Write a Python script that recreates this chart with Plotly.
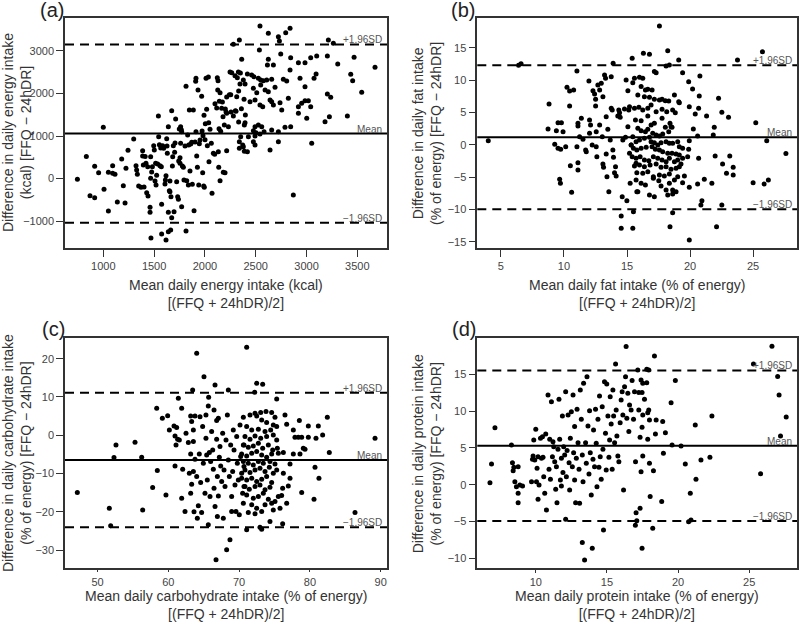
import plotly.graph_objects as go

# ---------------- data (mean of methods, difference FFQ - 24hDR) ----------------
energy_pts = [
    (745,-16),(833,518),(869,-408),(915,-455),(915,290),(954,133),
    (1000,1204),(1007,-255),(1050,-765),(1050,145),(1092,122),(1115,98),(1092,300),(1138,-553),(1181,459),
    (1197,-168),(1214,-577),(1223,239),(1243,663),(1299,929),(1322,302),(1328,200),(1335,98),(1348,-177),
    (1371,-208),(1387,655),(1387,529),(1394,318),(1401,-200),(1412,520),(1420,357),(1427,-333),(1437,278),
    (1440,-412),(1460,-678),(1460,-796),(1466,514),(1466,4),(1476,153),(1483,278),(1496,773),(1502,670),
    (1509,-59),(1515,357),(1519,-153),(1525,75),(1535,341),(1542,1471),(1545,984),(1552,796),(1558,302),
    (1565,718),(1571,278),(1574,-608),(1584,773),(1594,710),(1607,-129),(1611,-35),(1617,67),(1624,937),
    (1627,765),(1630,592),(1640,1220),(1640,-796),(1650,-286),(1656,-59),(1656,-310),(1666,-427),(1673,1596),
    (1673,-922),(1680,294),(1683,514),(1689,773),(1696,-780),(1702,616),(1706,835),(1712,1400),(1722,-74),
    (1732,-427),(1739,-490),(1742,412),(1748,1165),(1755,490),(1755,357),(1761,827),(1761,1220),(1768,1149),
    (1771,1102),(1771,-663),(1778,294),(1788,263),(1794,-35),(1804,765),(1814,2169),(1814,-1235),(1821,-51),
    (1830,1024),(1837,-153),(1840,788),(1847,1612),(1853,176),(1860,812),(1870,851),(1876,-137),(1886,1612),
    (1893,-757),(1903,859),(1909,2286),(1912,2357),(1912,1102),(1919,529),(1926,263),(1932,2082),(1939,-153),
    (1945,820),(1952,906),(1968,1933),(1972,1118),(1978,137),(1981,1008),(1988,-177),(1991,1486),(1994,-208),
    (2001,914),(2004,1290),(2011,2357),(2017,1627),(2024,773),(2034,2388),(2037,1314),(2040,396),(2050,1157),
    (2063,827),(2070,-349),(2083,592),(2096,568),(2099,1761),(2116,1659),(2122,2373),(2129,2302),(2126,2082),
    (2132,631),(2136,263),(2139,1172),(2142,1816),(2149,-51),(2149,2020),(2155,1110),(2165,1651),(2172,1800),
    (2178,1455),(2181,145),(2191,1259),(2198,137),(2201,1635),(2208,1565),(2214,1918),(2214,655),(2214,1533),
    (2231,1220),(2241,1973),(2247,2506),(2254,1973),(2257,1565),(2264,2490),(2280,1471),(2296,2420),(2300,1596),
    (2306,1580),(2313,1925),(2319,2373),(2329,2506),(2332,2059),(2332,1329),(2339,867),(2339,710),(2345,2224),
    (2349,2482),(2352,984),(2359,1643),(2362,2804),(2372,788),(2378,2318),(2385,1863),(2388,1259),(2388,639),
    (2398,1494),(1469,-1400),(1574,-1306),(1617,-1447),(1640,-1251),(1663,-1212),(2280,3157),(2339,3259),
    (2542,3588),(2624,3416),(2723,3337),(2733,3235),(2795,3431),(2838,3533),(2536,3024),(2624,2804),(2746,2929),
    (2844,2843),(2920,2725),(2985,2725),(3041,2843),(3100,2882),(3205,2882),(3215,3259),(3264,3180),(3307,2694),
    (3468,2851),(3674,2616),(3435,2451),(3454,2302),(3543,2027),(2615,2671),(2674,2671),(2418,2459),(2460,2435),
    (2483,2396),(2526,2357),(2549,2318),(2575,2302),(2608,2318),(2657,2333),(2690,2145),(2772,2333),(2805,2294),
    (2838,2553),(2936,2357),(2985,2161),(3074,2357),(3094,2459),(2395,2224),(2477,2121),(2510,2020),(2549,2200),
    (2592,2082),(2624,2043),(2444,1808),(2493,1847),(2542,1729),(2569,1690),(2641,1847),(2657,1808),(2674,1729),
    (2739,1784),(2756,1612),(2821,1886),(2920,1690),(2952,1769),(2985,1831),(3018,1831),(3041,1690),(3002,1416),
    (3205,1988),(3238,1910),(3225,1455),(3182,1337),(3402,1471),(2920,1533),(2395,1314),(2493,1220),(2526,1259),
    (2559,1220),(2477,1126),(2503,1078),(2542,1047),(2582,1102),(2657,1141),(2723,1102),(2788,1204),(2844,1220),
    (2493,1000),(2428,984),(2477,867),(2378,749),(2418,631),(2493,788),(2641,671),(2723,867),(3051,827),(2870,-388),
]

fat_pts = [
    (4.0,0.6),(6.4,12.3),(6.6,12.5),
    (8.82,6.30),(8.74,2.43),(9.40,2.17),(9.53,3.41),(9.80,3.41),(9.93,2.02),(9.27,0.06),(9.53,-0.56),(9.74,-0.71),
    (10.14,-0.30),(9.66,-5.35),(9.72,-5.97),(10.24,8.87),(10.45,8.31),(10.77,8.46),(10.45,5.99),(10.51,-3.24),
    (10.61,-7.36),(11.11,-3.91),(11.03,11.40),(11.03,-0.30),(11.11,-2.78),(11.11,3.31),(11.11,2.90),(11.24,1.24),
    (11.38,4.08),(11.51,0.83),(11.72,-0.82),(11.77,-1.07),(11.98,9.85),(12.03,3.82),(12.03,1.76),(12.11,3.05),
    (12.24,-0.04),(12.30,8.36),(12.43,7.84),(12.51,7.02),(12.51,5.99),(12.56,2.02),(12.56,-0.30),(12.61,-1.85),
    (12.69,9.23),(12.83,8.46),(12.83,3.05),(12.96,9.49),(13.09,7.43),(13.04,1.24),(13.09,-2.98),(13.14,-3.50),
    (13.22,10.78),(13.30,10.26),(13.35,4.34),(13.35,-1.43),(13.41,-4.94),(13.48,2.38),(13.56,-7.26),(13.67,0.73),
    (13.75,5.63),(13.75,10.52),(13.83,5.37),(13.88,-0.82),(13.93,-1.95),(14.01,-4.32),(14.09,-3.40),(14.14,-4.84),
    (14.27,4.44),(14.35,5.37),(14.41,4.96),(14.46,4.23),(14.54,-11.02),(14.54,-12.93),(14.62,-8.03),(14.67,0.73),
    (14.80,5.52),(14.88,1.14),(14.93,10.01),(14.99,-8.65),(15.07,8.36),(15.07,2.79),(15.14,5.37),(15.20,-1.33),
    (15.25,-5.97),(15.33,-0.04),(15.41,13.36),(15.46,-12.93),(15.51,-10.35),(15.59,10.26),(15.72,-2.88),
    (15.78,-7.26),(13.9,12.6),
    (17.57,18.36),(18.23,14.54),(16.30,14.13),(16.78,13.98),(18.36,12.33),(18.10,12.17),(19.10,13.10),
    (17.17,11.30),(17.31,11.14),(19.41,11.14),(19.89,9.75),(20.78,10.63),(20.20,8.62),(20.73,7.53),(22.26,7.17),
    (19.94,5.88),(20.68,5.63),(20.41,4.75),(21.31,4.44),(22.52,5.01),(23.05,4.23),(25.21,3.41),(26.08,0.63),
    (25.74,14.39),(23.76,13.10),(20.26,2.43),(20.60,1.35),(21.92,2.69),(21.84,1.50),(19.94,0.63),(21.99,-1.74),
    (22.58,-2.98),(23.15,-1.74),(20.68,-2.11),(19.89,-0.71),(19.81,-1.85),(22.89,-4.43),(23.42,-3.50),
    (23.42,-4.68),(21.73,-5.97),(21.13,-5.35),(20.60,-6.07),(19.41,-5.87),(19.94,-6.59),(25.0,-5.87),
    (25.87,-6.07),(26.21,-5.45),(20.94,-8.65),(20.86,-9.32),(22.52,-9.32),(18.41,-12.67),(22.10,-12.67),
    (19.94,-14.73),(18.62,-10.51),(27.6,-1.35),
    (15.46,9.59),(15.99,10.42),(16.25,10.26),(16.12,8.98),(16.46,8.46),(16.65,8.56),(16.99,8.46),(15.86,7.69),
    (16.38,7.43),(16.78,7.33),(17.17,7.02),(17.57,6.91),(17.78,7.02),(18.04,6.81),(18.31,6.76),(18.76,7.69),
    (19.10,6.66),(15.20,5.88),(15.59,5.63),(15.94,5.78),(16.25,5.37),(16.65,5.63),(16.91,6.14),(17.31,5.11),
    (17.78,5.47),(18.15,5.11),(18.62,5.37),(19.15,6.50),(15.67,3.82),(16.12,3.72),(16.65,4.44),(16.91,3.05),
    (17.17,3.31),(17.78,4.08),(18.04,2.69),(18.41,3.31),(18.57,2.69),(18.83,4.96),(15.86,2.53),(16.12,2.17),
    (16.46,2.02),(16.65,2.38),(17.04,1.76),(17.31,1.50),(17.57,1.35),(17.83,1.66),(18.31,2.02),(18.49,2.79),
    (15.46,1.24),(15.72,0.47),(15.99,0.73),(16.38,0.99),(16.78,1.14),(16.91,0.47),(17.17,0.32),(17.44,-0.04),
    (17.70,0.32),(18.10,0.47),(18.36,0.21),(18.62,0.21),(19.02,0.47),(19.15,-0.30),(19.41,-0.56),(15.33,-0.04),
    (15.51,-0.56),(15.78,-0.82),(16.12,-0.56),(16.52,-0.40),(16.99,-0.30),(17.25,-0.71),(17.57,-0.82),
    (17.83,-1.07),(18.23,-1.33),(18.57,-1.33),(18.89,-1.43),(19.15,-1.59),(19.41,-2.10),(15.41,-1.85),
    (15.72,-2.10),(16.04,-1.85),(16.38,-2.36),(16.73,-2.47),(17.09,-1.85),(17.44,-2.10),(17.78,-2.36),
    (18.10,-2.62),(18.36,-2.10),(18.76,-2.62),(19.02,-2.36),(19.28,-2.98),(15.59,-3.29),(15.99,-3.14),
    (16.38,-3.39),(16.83,-3.14),(17.31,-2.98),(17.70,-3.50),(18.10,-3.39),(18.49,-3.81),(18.89,-3.65),
    (19.15,-3.39),(15.78,-4.32),(16.25,-4.42),(16.65,-4.17),(17.09,-4.94),(17.57,-4.68),(17.96,-4.84),
    (18.36,-4.53),(18.76,-5.46),(19.02,-4.94),(19.55,-4.84),(15.72,-5.46),(16.12,-5.97),(16.46,-6.23),
    (17.09,-5.20),(17.52,-5.56),(17.70,-6.38),(18.10,-7.00),(18.36,-5.97),(18.62,-7.00),(18.89,-7.26),
    (15.86,-7.26),(16.78,-7.77),(17.17,-8.03),(18.23,-7.77),(18.62,-7.62),
]

carb_pts = [
    (47.15,-14.97),(51.67,-19.07),(51.86,-23.68),(52.61,-2.53),(52.33,-5.84),(55.30,-1.84),(56.24,-5.76),
    (56.38,-19.51),(57.79,-13.67),(58.36,7.04),(58.45,-9.24),(59.16,4.43),(59.67,-15.59),(59.91,5.12),
    (60.15,1.38),(60.81,2.43),(60.95,-0.19),(60.95,-8.02),(61.09,-2.53),(61.18,1.99),(61.42,9.65),(61.32,-1.06),
    (61.56,-1.23),(61.89,7.04),(61.89,-16.46),(62.03,-8.89),(62.36,-19.94),(62.50,0.51),(62.83,-1.93),
    (62.97,-9.93),(63.16,5.04),(63.16,-4.88),(63.16,-15.15),(63.30,3.56),(63.30,-12.80),(63.44,11.82),
    (63.54,1.38),(63.54,-1.67),(63.54,-9.50),(63.63,-20.03),(63.77,5.04),(63.77,-6.28),(64.01,21.40),
    (64.01,-10.80),(64.10,-21.68),(64.24,-18.46),(64.38,-4.88),(64.48,4.86),(64.57,-12.37),(64.71,-20.20),
    (64.85,2.25),(64.95,-7.32),(65.04,15.31),(65.18,-15.15),(65.32,5.30),(65.32,-0.80),(65.42,-5.15),
    (65.51,-11.67),(65.65,7.65),(65.65,-23.42),(65.80,-4.54),(65.89,-16.03),(65.98,-6.89),(66.12,0.95),
    (66.27,-3.84),(66.36,-8.89),(66.46,6.60),(66.46,-13.85),(66.60,13.13),(66.60,-18.64),(66.74,-32.56),
    (66.83,3.82),(66.83,-1.06),(66.93,-10.80),(66.93,-21.25),(67.07,4.43),(67.07,-15.85),(67.21,-5.76),
    (67.30,-2.97),(67.40,-8.02),(67.54,-12.11),(67.68,0.51),(67.77,-21.68),(67.87,-9.06),(68.01,-13.41),
    (68.15,-1.23),(68.24,-29.95),(68.34,5.30),(68.48,11.82),(68.48,-6.45),(68.62,-10.80),(68.71,-27.34),
    (68.81,-2.53),(68.95,-16.03),(68.95,-19.94),(69.09,-9.50),(69.18,1.38),(69.28,-3.84),(69.42,-12.98),
    (69.56,-19.94),(69.66,-0.36),(69.75,-7.32),(69.89,-11.67),(70.03,-20.81),(70.13,2.69),(70.22,-5.58),
    (70.36,-9.93),(70.50,-15.15),(70.60,-2.53),(70.69,-8.19),(70.83,-13.41),(71.07,-24.73),(71.07,22.96),
    (72.48,13.56),(73.33,13.30),(75.31,9.47),(72.2,11.2),(82.46,4.69),(89.20,-0.80),(82.74,-4.54),(80.72,-8.37),
    (81.28,-11.24),(80.58,-16.72),(86.37,-20.20),(78.84,-14.98),(79.78,2.43),(78.51,3.82),(72.95,-24.03),
    (73.19,-24.55),(65.7,9.9),
    (76.48,5.30),(76.72,2.86),(77.66,1.38),(77.89,-0.53),(78.37,-0.53),(78.84,-0.53),(79.07,-3.41),(79.31,-3.67),
    (79.78,-0.53),(80.86,-0.80),(81.19,2.43),(81.80,0.08),(78.60,-4.88),(77.66,-4.88),(77.19,-7.50),(76.25,-4.54),
    (76.15,-13.85),(76.01,-15.77),(76.72,-17.77),(76.25,-9.93),(77.19,-11.24),(76.95,-13.24),(75.54,-16.03),
    (75.78,-19.07),(75.07,-17.33),(74.83,-19.51),(74.36,-22.55),(76.15,-23.16),
    (70.60,4.69),(71.54,5.30),(72.25,5.73),(72.48,5.04),(73.05,5.91),(73.80,6.17),(74.60,5.91),(75.07,4.69),
    (73.19,3.99),(73.89,3.30),(74.83,2.69),(71.07,2.25),(71.78,1.38),(72.72,1.56),(73.66,0.95),(74.46,1.38),
    (75.31,2.25),(70.83,-0.36),(71.54,-1.06),(72.25,-0.19),(73.05,-0.80),(73.89,-0.36),(74.83,0.08),(75.31,-1.23),
    (70.69,-2.53),(71.30,-3.14),(72.01,-2.80),(72.72,-2.10),(73.33,-3.41),(74.13,-2.53),(74.74,-3.84),
    (75.40,-3.41),(70.36,-4.88),(71.07,-5.41),(71.78,-4.71),(72.48,-4.28),(73.19,-5.15),(73.89,-5.76),
    (74.60,-4.88),(75.54,-4.71),(70.60,-6.89),(71.30,-7.32),(72.01,-7.76),(72.72,-6.89),(73.42,-7.32),
    (74.36,-6.89),(75.07,-7.50),(70.83,-9.06),(71.54,-9.76),(72.25,-9.06),(72.95,-8.63),(73.66,-9.50),
    (74.27,-8.37),(74.83,-9.93),(75.31,-9.06),(70.36,-11.24),(71.07,-11.67),(71.78,-11.24),(72.48,-12.11),
    (73.19,-11.50),(73.89,-10.80),(74.60,-12.37),(70.69,-13.41),(71.44,-14.11),(72.25,-13.41),(72.95,-12.98),
    (73.66,-14.28),(74.36,-13.59),(71.07,-15.59),(72.01,-16.46),(72.72,-16.03),(73.42,-15.15),(74.13,-16.72),
    (70.60,-17.77),(71.78,-18.20),(72.48,-19.07),(73.66,-18.20),(74.60,-17.77),(71.30,-20.20),(72.25,-20.55),
    (73.19,-19.94),
]

protein_pts = [
    (6.78,0.28),(6.89,2.81),(7.13,7.75),(8.29,5.40),(8.36,2.99),(8.41,1.91),(8.46,2.36),(8.76,2.45),(8.53,0.41),
    (8.64,-0.27),(8.76,-1.17),(8.76,-2.44),(8.88,-0.04),(9.07,-0.18),(9.81,3.90),(9.86,6.07),(9.93,3.36),
    (9.70,0.41),(9.77,3.45),(10.00,7.52),(10.05,0.41),(10.09,2.22),(10.16,3.81),(10.23,-0.04),(10.33,6.30),
    (10.40,3.58),(10.47,6.53),(10.51,3.72),(10.56,1.09),(10.16,-1.99),(10.63,-1.17),(10.70,6.89),(10.75,-3.44),
    (10.86,12.19),(10.93,2.09),(10.98,6.16),(11.03,0.73),(11.10,11.28),(11.17,3.81),(11.21,5.85),(11.26,5.17),
    (11.33,3.13),(11.40,-0.63),(11.45,2.45),(11.49,-2.44),(11.56,4.81),(11.63,11.60),(11.68,6.16),(11.73,0.64),
    (11.80,-0.18),(11.80,3.58),(11.87,9.34),(11.91,1.64),(11.96,5.17),(12.03,4.04),(12.10,12.64),(12.10,-4.70),
    (12.15,1.09),(12.20,4.63),(12.27,9.47),(12.34,2.99),(12.38,-0.72),(12.43,6.30),(12.50,9.92),(12.57,2.45),
    (12.62,12.19),(12.66,4.35),(12.73,7.89),(12.73,0.64),(12.80,-2.44),(12.85,3.58),(12.90,10.24),(12.97,5.71),
    (13.04,2.09),(13.08,-2.53),(13.13,12.87),(13.20,8.88),(13.27,4.04),(13.27,-7.87),(13.32,0.41),(13.36,13.77),
    (13.43,-10.23),(13.50,5.71),(13.55,2.90),(13.60,14.68),(13.67,7.98),(13.74,1.46),(13.78,10.06),(13.83,4.35),
    (13.90,-1.40),(13.97,-8.64),(14.02,3.45),(14.06,7.43),(14.13,2.45),(14.20,10.24),(14.25,5.62),(14.30,-0.27),
    (14.37,8.88),(14.44,2.36),(14.48,12.05),(14.53,3.81),(14.60,0.73),(14.67,10.60),(14.72,4.81),(14.76,-6.15),
    (14.83,14.00),(14.90,6.98),(14.95,2.00),(14.99,13.68),(15.07,9.34),(15.14,3.72),(15.19,6.07),(15.23,11.96),
    (15.30,8.25),(15.37,2.09),(15.42,12.87),(15.47,9.34),(15.54,5.71),(15.61,16.40),(15.65,10.15),(15.70,6.62),
    (15.77,3.90),(15.84,3.13),(15.93,8.43),(16.00,11.51),(16.07,12.64),(16.12,9.47),(16.17,-0.72),(16.24,13.32),
    (16.31,14.68),(16.35,18.76),(16.40,9.02),(16.47,12.41),(16.54,7.21),(16.59,10.83),(16.70,10.15),
    (16.77,14.14),(16.87,8.88),(16.94,12.64),(17.01,3.13),(17.05,-3.80),(17.10,-4.89),(17.17,15.59),
    (18.34,17.49),(19.81,14.14),(19.51,11.15),(17.80,15.68),(17.94,15.59),(17.40,14.23),(17.52,13.77),
    (17.80,13.86),(17.24,12.51),(17.47,12.51),(17.64,11.60),(17.94,10.15),(17.87,9.79),(17.24,10.15),
    (17.52,9.47),(17.47,7.80),(17.99,8.79),(18.46,8.79),(18.92,8.57),(19.11,7.07),(17.33,6.44),(17.87,6.16),
    (18.41,6.89),(19.58,5.40),(20.21,5.26),(21.21,8.11),(22.38,9.34),(18.97,4.26),(17.52,3.90),(17.99,2.90),
    (18.27,1.91),(20.51,2.81),(21.61,3.36),(22.24,3.72),(25.8,1.5),(21.26,0.73),(20.86,-1.17),(17.40,1.77),
    (18.04,-1.62),(18.85,-2.30),(17.33,-3.21),(20.91,-4.80),(20.74,-5.02),(18.22,-5.93),(17.47,-8.65),
    (17.0,-5.5),(25.3,16.4),(26.6,18.8),(27.0,14.7),(27.1,12.2),(27.6,9.2),(27.2,6.6),
]

# limits of agreement: (+1.96SD, mean, -1.96SD)
energy_loa = (3155, 1058, -1040)
fat_loa = (12.28, 1.17, -9.99)
carb_loa = (11.1, -6.5, -24.06)
protein_loa = (15.52, 5.28, -4.93)

energy_xticks = [1000, 1500, 2000, 2500, 3000, 3500]
energy_yticks = [-1000, 0, 1000, 2000, 3000]
fat_xticks = [5, 10, 15, 20, 25]
fat_yticks = [-15, -10, -5, 0, 5, 10, 15]
carb_xticks = [50, 60, 70, 80, 90]
carb_yticks = [-30, -20, -10, 0, 10, 20]
protein_xticks = [10, 15, 20, 25]
protein_yticks = [-10, -5, 0, 5, 10, 15]

x_titles = [
    "Mean daily energy intake (kcal)<br>[(FFQ + 24hDR)/2]",
    "Mean daily fat intake (% of energy)<br>[(FFQ + 24hDR)/2]",
    "Mean daily carbohydrate intake (% of energy)<br>[(FFQ + 24hDR)/2]",
    "Mean daily protein intake (% of energy)<br>[(FFQ + 24hDR)/2]",
]
y_titles = [
    "Difference in daily energy intake<br>(kcal) [FFQ \u2212 24hDR]",
    "Difference in daily fat intake<br>(% of energy) [FFQ \u2212 24hDR]",
    "Difference in daily carbohydrate intake<br>(% of energy) [FFQ \u2212 24hDR]",
    "Difference in daily protein intake<br>(% of energy) [FFQ \u2212 24hDR]",
]
panel_labels = ["(a)", "(b)", "(c)", "(d)"]

# ---------------- layout geometry ----------------
W, H = 800, 629
panels = [
    dict(pts=energy_pts, loa=energy_loa, xt=energy_xticks, yt=energy_yticks, xtl=7,
         xr=[623, 3792], yr=[-1635, 3776], px=(65, 387), py=(18, 248), lab=(52, 10), xtit=294, ytx=17),
    dict(pts=fat_pts, loa=fat_loa, xt=fat_xticks, yt=fat_yticks, xtl=7,
         xr=[3.13, 28.48], yr=[-15.97, 19.59], px=(477.3, 797), py=(18, 248), lab=(463, 10), xtit=294, ytx=427),
    dict(pts=carb_pts, loa=carb_loa, xt=carb_xticks, yt=carb_yticks, xtl=3,
         xr=[45.41, 90.89], yr=[-34.62, 25.33], px=(65, 387), py=(338.3, 567.7), lab=(53, 329), xtit=605, ytx=17),
    dict(pts=protein_pts, loa=protein_loa, xt=protein_xticks, yt=protein_yticks, xtl=3,
         xr=[5.89, 28.36], yr=[-11.36, 19.89], px=(477.3, 797), py=(338.3, 568.3), lab=(464, 329), xtit=605, ytx=427),
]

FONT = "Arial, Liberation Sans, sans-serif"
fig = go.Figure()
shapes, annotations = [], []
layout_axes = {}

for i, p in enumerate(panels):
    n = "" if i == 0 else str(i + 1)
    xs = [a for a, b in p["pts"]]
    ys = [b for a, b in p["pts"]]
    fig.add_trace(go.Scatter(x=xs, y=ys, mode="markers", xaxis="x" + n, yaxis="y" + n,
                             marker=dict(color="black", size=5), showlegend=False, hoverinfo="skip"))
    x0, x1 = p["px"]
    y0, y1 = p["py"]
    common = dict(showline=True, mirror=True, linecolor="#333", linewidth=1.5, ticks="outside",
                  tickwidth=1.2, tickcolor="#333", showgrid=False, zeroline=False,
                  tickfont=dict(family=FONT, size=11, color="#444"))
    layout_axes["xaxis" + n] = dict(domain=[x0 / W, x1 / W], range=p["xr"], tickvals=p["xt"],
                                     anchor="y" + n, ticklen=p["xtl"], **common)
    layout_axes["yaxis" + n] = dict(domain=[1 - y1 / H, 1 - y0 / H], range=p["yr"], tickvals=p["yt"],
                                     anchor="x" + n, ticklen=7, **common)
    up, mean, lo = p["loa"]
    for val, dash in ((up, "9px,6px"), (mean, "solid"), (lo, "9px,6px")):
        shapes.append(dict(type="line", xref="x" + n + " domain", x0=0, x1=1, yref="y" + n, y0=val, y1=val,
                           line=dict(color="black", width=2, dash=dash)))
    for val, txt in ((up, "+1.96SD"), (mean, "Mean"), (lo, "\u22121.96SD")):
        annotations.append(dict(xref="x" + n + " domain", x=1, xanchor="right", xshift=-3,
                                yref="y" + n, y=val, yanchor="bottom", yshift=-3, text=txt, showarrow=False,
                                font=dict(family=FONT, size=10, color="#555")))
    cx = (x0 + x1) / 2
    annotations.append(dict(xref="paper", yref="paper", x=cx / W, y=1 - p["xtit"] / H, text=x_titles[i],
                            showarrow=False, xanchor="center", yanchor="middle",
                            font=dict(family=FONT, size=14, color="#333")))
    annotations.append(dict(xref="paper", yref="paper", x=p["ytx"] / W, y=1 - ((y0 + y1) / 2) / H,
                            text=y_titles[i], textangle=-90, showarrow=False, xanchor="center",
                            yanchor="middle", font=dict(family=FONT, size=14, color="#333")))
    lx, ly = p["lab"]
    annotations.append(dict(xref="paper", yref="paper", x=lx / W, y=1 - ly / H, text=panel_labels[i],
                            showarrow=False, xanchor="center", yanchor="middle",
                            font=dict(family=FONT, size=20, color="#222")))

fig.update_layout(width=W, height=H, margin=dict(l=0, r=0, t=0, b=0), paper_bgcolor="white",
                  plot_bgcolor="white", shapes=shapes, annotations=annotations, **layout_axes)
fig.write_html("out.html", config={"displayModeBar": False},
               post_script="document.body.style.margin='0';document.body.style.overflow='hidden';")
